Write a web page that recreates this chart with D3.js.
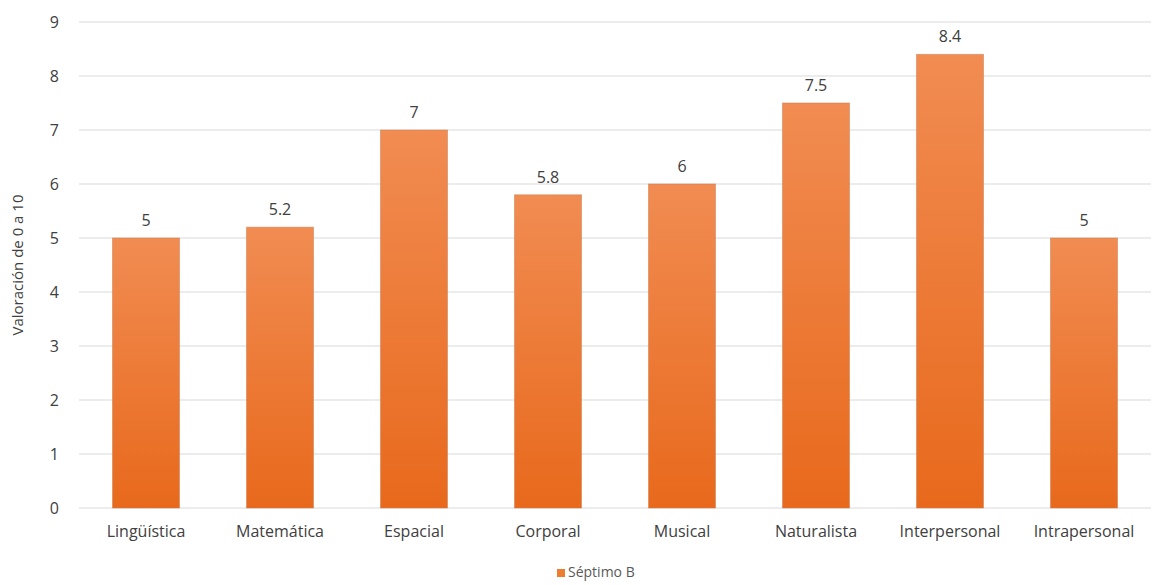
<!DOCTYPE html>
<html>
<head>
<meta charset="utf-8">
<script src="https://cdn.jsdelivr.net/npm/d3@7"></script>
<style>
  body { margin: 0; background: #fff; }
  text { font-family: "Open Sans", "Noto Sans", sans-serif; }
</style>
</head>
<body>
<div id="chart"></div>
<script>
var categories = ["Lingüística", "Matemática", "Espacial", "Corporal", "Musical", "Naturalista", "Interpersonal", "Intrapersonal"];
var values = [5, 5.2, 7, 5.8, 6, 7.5, 8.4, 5];
var yTicks = [0, 1, 2, 3, 4, 5, 6, 7, 8, 9];
var seriesName = "Séptimo B";
var yTitle = "Valoración de 0 a 10";

var width = 1152, height = 585;
var margin = {top: 22, right: 1, bottom: 77, left: 79};

var svg = d3.select("#chart").append("svg")
    .attr("width", width)
    .attr("height", height);

var defs = svg.append("defs");
var grad = defs.append("linearGradient")
    .attr("id", "barGrad")
    .attr("x1", 0).attr("y1", 0).attr("x2", 0).attr("y2", 1);
grad.append("stop").attr("offset", "0%").attr("stop-color", "#f18c52");
grad.append("stop").attr("offset", "100%").attr("stop-color", "#e8691c");

var x = d3.scaleBand()
    .domain(categories)
    .range([margin.left, width - margin.right])
    .paddingInner(0.5)
    .paddingOuter(0.25);

var y = d3.scaleLinear()
    .domain([0, 9])
    .range([height - margin.bottom, margin.top]);

// gridlines
svg.append("g")
    .selectAll("line")
    .data(yTicks)
    .enter()
    .append("line")
    .attr("x1", margin.left)
    .attr("x2", width - margin.right)
    .attr("y1", function(d) { return y(d); })
    .attr("y2", function(d) { return y(d); })
    .attr("stroke", "#d9d9d9")
    .attr("stroke-width", 1.2);

// y axis labels
var yAxis = svg.append("g")
    .attr("transform", "translate(" + (margin.left - 20) + ",0)")
    .call(d3.axisLeft(y).tickValues(yTicks).tickSize(0).tickPadding(0));
yAxis.select(".domain").remove();
yAxis.selectAll("text")
    .attr("font-size", "16px")
    .attr("fill", "#404040")
    .style("font-family", "'Open Sans', sans-serif");

// x axis labels
var xAxis = svg.append("g")
    .attr("transform", "translate(0," + (height - margin.bottom) + ")")
    .call(d3.axisBottom(x).tickSize(0).tickPadding(18));
xAxis.select(".domain").remove();
xAxis.selectAll("text")
    .attr("font-size", "16px")
    .attr("fill", "#404040")
    .style("font-family", "'Open Sans', sans-serif");

// bars
svg.append("g")
    .selectAll("rect")
    .data(values)
    .enter()
    .append("rect")
    .attr("x", function(d, i) { return x(categories[i]); })
    .attr("y", function(d) { return y(d); })
    .attr("width", x.bandwidth())
    .attr("height", function(d) { return y(0) - y(d); })
    .attr("fill", "url(#barGrad)")
    .attr("stroke", "#c9794a")
    .attr("stroke-opacity", 0.5)
    .attr("stroke-width", 1);

// value labels
svg.append("g")
    .selectAll("text")
    .data(values)
    .enter()
    .append("text")
    .attr("x", function(d, i) { return x(categories[i]) + x.bandwidth() / 2; })
    .attr("y", function(d) { return y(d) - 12; })
    .attr("text-anchor", "middle")
    .attr("font-size", "16px")
    .attr("fill", "#404040")
    .text(function(d) { return d; });

// y title
svg.append("text")
    .attr("transform", "translate(23," + ((margin.top + height - margin.bottom) / 2) + ") rotate(-90)")
    .attr("text-anchor", "middle")
    .attr("font-size", "15px")
    .attr("fill", "#404040")
    .text(yTitle);

// legend
var legend = svg.append("g")
    .attr("transform", "translate(557,569)");
legend.append("rect")
    .attr("width", 8)
    .attr("height", 8)
    .attr("fill", "#ed7d31");
legend.append("text")
    .attr("x", 11)
    .attr("y", 8)
    .attr("font-size", "14px")
    .attr("fill", "#595959")
    .text(seriesName);
</script>
</body>
</html>
